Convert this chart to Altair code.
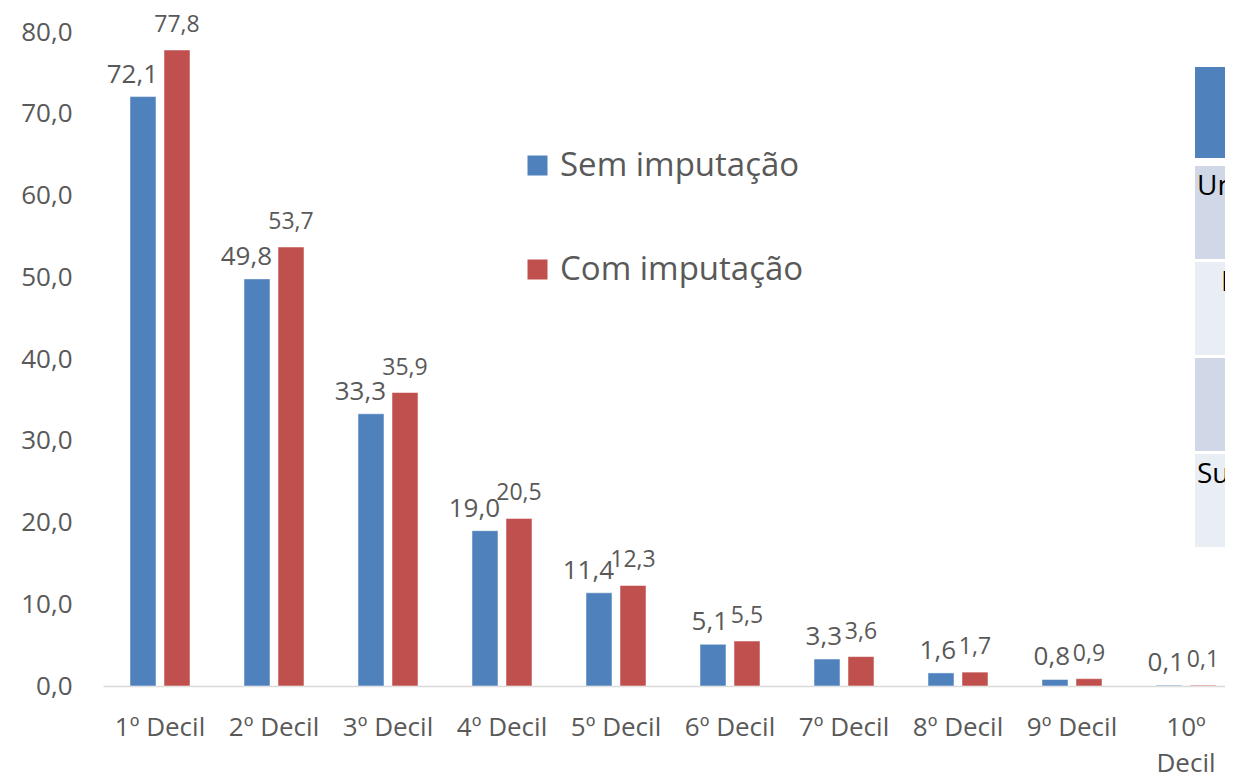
import altair as alt
import pandas as pd

categories = ["1º Decil", "2º Decil", "3º Decil", "4º Decil", "5º Decil",
              "6º Decil", "7º Decil", "8º Decil", "9º Decil", "10º Decil"]
sem_imputacao = [72.1, 49.8, 33.3, 19.0, 11.4, 5.1, 3.3, 1.6, 0.8, 0.1]
com_imputacao = [77.8, 53.7, 35.9, 20.5, 12.3, 5.5, 3.6, 1.7, 0.9, 0.1]
series = ["Sem imputação", "Com imputação"]
colors = ["#4F81BD", "#C0504D"]
y_ticks = [0, 10, 20, 30, 40, 50, 60, 70, 80]
table_rows = ["Un", "I", "", "Sul"]

rows = []
for c, s, v in zip(categories, sem_imputacao, com_imputacao):
    rows.append({"cat": c, "serie": series[0], "valor": s,
                 "rotulo": f"{s:.1f}".replace(".", ",")})
    rows.append({"cat": c, "serie": series[1], "valor": v,
                 "rotulo": f"{v:.1f}".replace(".", ",")})
df = pd.DataFrame(rows)

FONT = "Open Sans"
GREY = "#595959"

x_enc = alt.X("cat:N", sort=categories, scale=alt.Scale(range=[0, 1140], paddingInner=0, paddingOuter=0),
              axis=alt.Axis(title=None, ticks=False, domainColor="#D9D9D9", domainWidth=1.5,
                            labelFont=FONT, labelFontSize=26, labelColor=GREY, labelAngle=0,
                            labelPadding=28, labelLineHeight=36, labelLimit=0,
                            labelExpr="datum.value == '10º Decil' ? ['10º', 'Decil'] : datum.value"))
y_enc = alt.Y("valor:Q", scale=alt.Scale(domain=[0, 80], nice=False),
              axis=alt.Axis(title=None, values=y_ticks, grid=False, domain=False, ticks=False,
                            labelFont=FONT, labelFontSize=26, labelColor=GREY, labelPadding=31,
                            labelExpr="replace(format(datum.value, '.1f'), '.', ',')"))
off_enc = alt.XOffset("serie:N", sort=series,
                      scale=alt.Scale(domain=series, paddingInner=0.235, paddingOuter=0.794))

base = alt.Chart(df)

bars = base.mark_bar(stroke="white", strokeOpacity=0.5, strokeWidth=1).encode(
    x=x_enc, y=y_enc, xOffset=off_enc,
    color=alt.Color("serie:N", sort=series,
                    scale=alt.Scale(domain=series, range=colors),
                    legend=alt.Legend(title=None, orient="none", legendX=418, legendY=117,
                                      direction="vertical", symbolType="square", symbolSize=400,
                                      symbolStrokeWidth=0, labelFont=FONT, labelFontSize=33,
                                      labelColor=GREY, rowPadding=70, labelOffset=6,
                                      labelLimit=0)),
)

txt_sem = base.transform_filter(alt.datum.serie == series[0]).mark_text(
    font=FONT, fontSize=26, color=GREY, align="right", baseline="middle", dx=15, dy=-22
).encode(x=x_enc, y=y_enc, xOffset=off_enc, text="rotulo:N")

txt_com = base.transform_filter(alt.datum.serie == series[1]).mark_text(
    font=FONT, fontSize=23, color=GREY, align="center", baseline="middle", dy=-25
).encode(x=x_enc, y=y_enc, xOffset=off_enc, text="rotulo:N")

one = alt.Chart(pd.DataFrame({"k": [0]}))
hdr = one.mark_rect(color="#4F81BD").encode(
    x=alt.value(1092), x2=alt.value(1140), y=alt.value(35), y2=alt.value(126))
row_fills = ["#D0D8E8", "#E9EDF4", "#D0D8E8", "#E9EDF4"]
row_tops = [134, 230, 326, 422]
row_layers = []
for i, (lab, fill, top) in enumerate(zip(table_rows, row_fills, row_tops)):
    row_layers.append(one.mark_rect(color=fill).encode(
        x=alt.value(1092), x2=alt.value(1140), y=alt.value(top), y2=alt.value(top + 93)))
    if lab:
        xpos = 1118 if lab == "I" else 1094
        row_layers.append(one.mark_text(font=FONT, fontSize=28, color="#000000",
                                        align="left", baseline="middle").encode(
            x=alt.value(xpos), y=alt.value(top + 21), text=alt.value(lab)))

chart = alt.layer(bars, txt_sem, txt_com, hdr, *row_layers).properties(
    width=1122, height=654,
    padding={"left": 95, "top": 24, "right": 0, "bottom": 96},
    autosize=alt.AutoSizeParams(type="none"),
).configure_view(stroke=None)

chart.save("out.html", embed_options={"renderer": "svg", "actions": False})
